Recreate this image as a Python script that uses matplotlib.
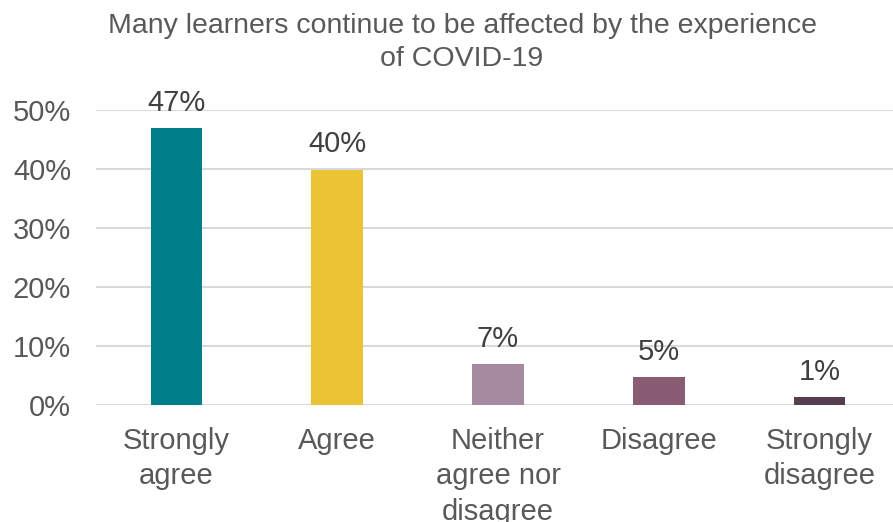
import matplotlib.pyplot as plt

plt.rcParams['font.family'] = ['Liberation Sans', 'DejaVu Sans']

# survey responses (share of respondents)
categories = ['Strongly\nagree', 'Agree', 'Neither\nagree nor\ndisagree', 'Disagree', 'Strongly\ndisagree']
shares = [46.9, 39.9, 6.9, 4.7, 1.4]
colors = ['#007E8A', '#EBC436', '#A68BA0', '#8A5C74', '#553F4F']
yticks = [0, 10, 20, 30, 40, 50]

fig = plt.figure(figsize=(8.93, 5.22), dpi=100)
ax = fig.add_axes([96 / 893, 1 - 405 / 522, 804 / 893, (405 - 110) / 522])

x = range(len(categories))
bars = ax.bar(x, shares, width=0.32, color=colors, zorder=3)

for b, v in zip(bars, shares):
    ax.text(b.get_x() + b.get_width() / 2, v + 1.9, f'{round(v)}%',
            ha='center', va='bottom', fontsize=21, color='#404040', clip_on=False)

ax.set_xlim(-0.5, len(categories) - 0.5)
ax.set_ylim(0, 50)
ax.set_yticks(yticks)
ax.set_yticklabels([f'{t}%' for t in yticks])
ax.set_xticks(list(x))
ax.set_xticklabels(categories, linespacing=1.33)
ax.tick_params(axis='both', length=0, labelsize=21, colors='#595959')
ax.tick_params(axis='x', pad=16)
ax.tick_params(axis='y', pad=18)

ax.grid(axis='y', color='#D9D9D9', linewidth=1.5, zorder=0)
for s in ax.spines.values():
    s.set_visible(False)

fig.text(462 / 893, 1 - 13 / 522, 'Many learners continue to be affected by the experience\nof COVID-19',
         ha='center', va='top', fontsize=20.5, color='#595959', linespacing=1.37)

fig.savefig('out.png', dpi=100)
